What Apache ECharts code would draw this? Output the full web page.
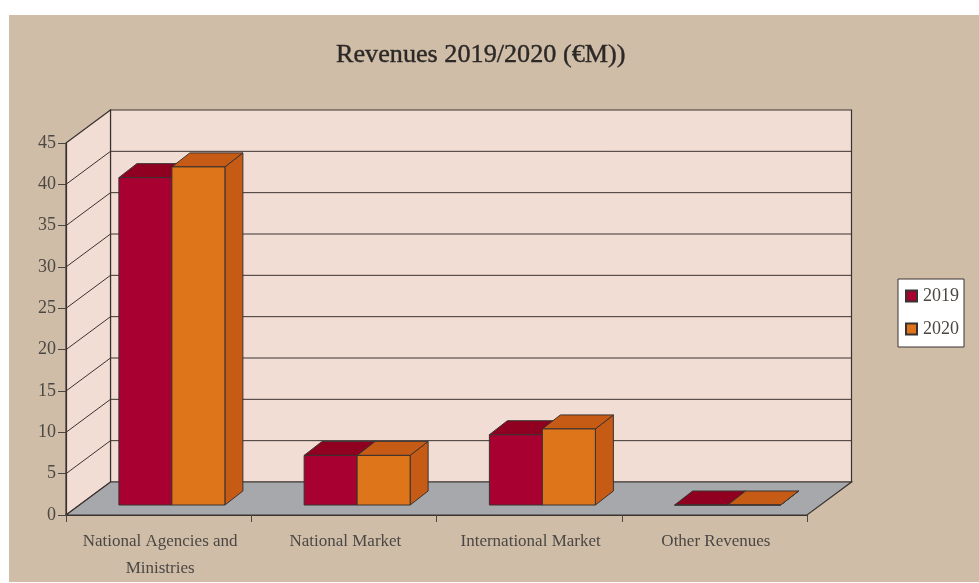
<!DOCTYPE html>
<html><head><meta charset="utf-8">
<style>html,body{margin:0;padding:0;background:#fff}#c{width:979px;height:583px}</style>
<script src="https://cdn.jsdelivr.net/npm/echarts@6/dist/echarts.min.js"></script>
</head><body><div id="c"></div>
<script>
const categories = ['National Agencies and\nMinistries', 'National Market', 'International Market', 'Other Revenues'];
const values2019 = [39.6, 6, 8.5, 0];
const values2020 = [40.9, 6, 9.2, 0];
const tickValues = [0, 5, 10, 15, 20, 25, 30, 35, 40, 45];

const FONT = '"Liberation Serif", serif';
const TEXT = '#4b4743';
const LINE = '#3a3230';
const DX = 44.5, DY = -33;        // depth of the whole box
const BDX = 18, BDY = -14;        // depth of a bar
const FX = 0, FY = -10;           // bar front plane offset from box front
const BAR_W = 53;

const chart = echarts.init(document.getElementById('c'), null, {renderer: 'canvas'});

function planes(params, api) {
  const s = params.coordSys;
  const L = s.x, R = s.x + s.width, T = s.y, B = s.y + s.height;
  const poly = (pts, fill, stroke, lw) => ({type: 'polygon', shape: {points: pts},
    style: {fill: fill, stroke: stroke || 'none', lineWidth: lw || 1}});
  return {type: 'group', children: [
    poly([[L + DX, T + DY], [R + DX, T + DY], [R + DX, B + DY], [L + DX, B + DY]], '#f1ddd3', LINE, 1.2),
    poly([[L, T], [L + DX, T + DY], [L + DX, B + DY], [L, B]], '#f1ddd3', LINE, 1.2),
    poly([[L, B], [L + DX, B + DY], [R + DX, B + DY], [R, B]], '#a6a8ab', LINE, 1.2)
  ]};
}
function gridLines(params, api) {
  const s = params.coordSys;
  const y = api.coord([0, api.value(0)])[1];
  const L = s.x, R = s.x + s.width;
  return {type: 'group', children: [
    {type: 'line', shape: {x1: L, y1: y, x2: L + DX, y2: y + DY}, style: {stroke: LINE, lineWidth: 1}},
    {type: 'line', shape: {x1: L + DX, y1: y + DY, x2: R + DX, y2: y + DY}, style: {stroke: LINE, lineWidth: 1}}
  ]};
}
function bar3d(front, top, side, shift) {
  return function (params, api) {
    const cat = api.value(0), v = api.value(1);
    const p0 = api.coord([cat, 0]), p1 = api.coord([cat, v]);
    const x0 = p0[0] + shift + FX, x1 = x0 + BAR_W;
    const yb = p0[1] + FY, yt = p1[1] + FY;
    const st = {stroke: LINE, lineWidth: 1, lineJoin: 'round'};
    const poly = (pts, fill) => ({type: 'polygon', shape: {points: pts}, style: Object.assign({fill: fill}, st)});
    return {type: 'group', children: [
      poly([[x1, yb], [x1 + BDX, yb + BDY], [x1 + BDX, yt + BDY], [x1, yt]], side),
      poly([[x0, yt], [x0 + BDX, yt + BDY], [x1 + BDX, yt + BDY], [x1, yt]], top),
      poly([[x0, yb], [x1, yb], [x1, yt], [x0, yt]], front)
    ]};
  };
}

chart.setOption({
  animation: false,
  backgroundColor: '#ffffff',
  graphic: [{type: 'rect', z: -100, silent: true, shape: {x: 9, y: 15, width: 970, height: 567}, style: {fill: '#cfbda8'}}],
  title: {text: 'Revenues 2019/2020 (€M))', left: 331, top: 37,
    textStyle: {fontFamily: FONT, fontSize: 26.2, fontWeight: 'normal', color: '#2b2826',
      textBorderColor: '#2b2826', textBorderWidth: 0.4}},
  legend: {orient: 'vertical', left: 898, top: 279, padding: [8, 5, 9, 7], itemGap: 15,
    itemWidth: 11, itemHeight: 11, icon: 'rect',
    backgroundColor: '#ffffff', borderColor: '#3a3230', borderWidth: 1,
    data: ['2019', '2020'],
    textStyle: {fontFamily: FONT, fontSize: 18, color: TEXT, padding: [0, 0, 0, 1]}},
  grid: {left: 66, right: 172, top: 143, bottom: 68, outerBoundsMode: 'none'},
  xAxis: {type: 'category', data: categories, boundaryGap: true, z: 5,
    axisLine: {show: true, lineStyle: {color: LINE, width: 1.2}},
    axisTick: {show: true, length: 7, alignWithLabel: false, lineStyle: {color: '#4b4743', width: 1}},
    axisLabel: {interval: 0, margin: 13, fontFamily: FONT, fontSize: 17, lineHeight: 27, color: TEXT, padding: [0, 0, 0, 3]}},
  yAxis: {type: 'value', min: 0, max: 45, interval: 5, z: 5,
    axisLine: {show: true, lineStyle: {color: LINE, width: 1.2}},
    axisTick: {show: true, length: 8, lineStyle: {color: '#4b4743', width: 1}},
    axisLabel: {margin: 10, fontFamily: FONT, fontSize: 18, color: TEXT},
    splitLine: {show: false}},
  series: [
    {type: 'custom', name: 'planes', renderItem: planes, data: [[0]], z: 1, silent: true, encode: {x: 0}},
    {type: 'custom', name: 'grid', renderItem: gridLines, data: tickValues.slice(1, -1).map(v => [v]), z: 2, silent: true,
     encode: {y: 0}},
    {type: 'custom', name: '2019', renderItem: bar3d('#a90032', '#8f0021', '#7d001c', -39.75),
     data: values2019.map((v, i) => [i, v]), z: 3, itemStyle: {color: '#a90032', borderColor: LINE, borderWidth: 1},
     encode: {x: 0, y: 1}},
    {type: 'custom', name: '2020', renderItem: bar3d('#df751a', '#c65b15', '#c65b15', 13.25),
     data: values2020.map((v, i) => [i, v]), z: 4, itemStyle: {color: '#df751a', borderColor: LINE, borderWidth: 1},
     encode: {x: 0, y: 1}}
  ]
});
</script></body></html>
